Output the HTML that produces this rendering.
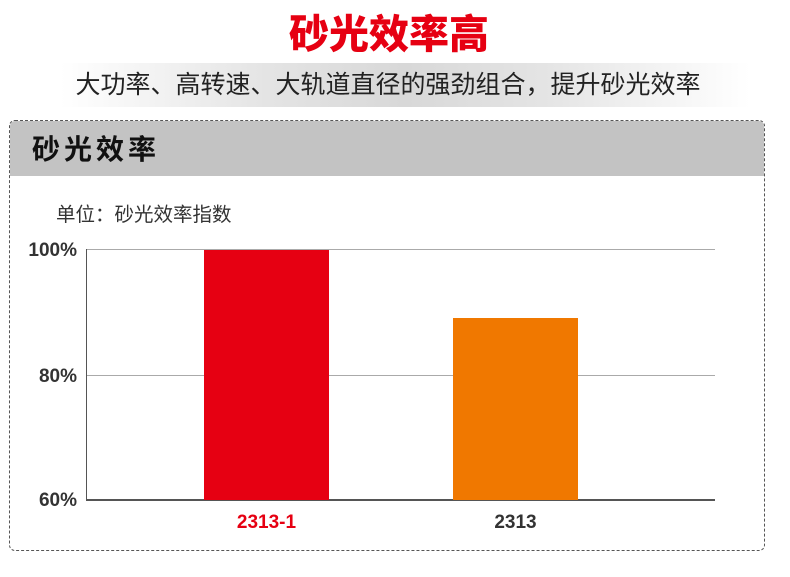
<!DOCTYPE html><html><head><meta charset="utf-8"><style>
body{margin:0;width:790px;height:577px;background:#fff;position:relative;font-family:"Liberation Sans","Noto Sans CJK SC",sans-serif;overflow:hidden}
.a{position:absolute}
</style></head><body>
<div class="a" style="left:0;width:778px;top:12px;text-align:center;font-size:40px;font-weight:900;color:#e60012;line-height:46px">砂光效率高</div>
<div class="a" style="left:60px;width:690px;top:63px;height:44px;background:linear-gradient(90deg,#fff,#e4e4e4 30%,#d8d8d8 50%,#e4e4e4 70%,#fff)"></div>
<div class="a" style="left:0;width:776px;top:68px;text-align:center;font-size:25px;color:#222;line-height:34px">大功率、高转速、大轨道直径的强劲组合，提升砂光效率</div>
<div class="a" style="left:9px;top:120px;width:754px;height:429px;border:1.5px dashed #555;border-radius:6px;overflow:hidden">
<div style="height:55px;background:#c3c3c3;font-size:28px;font-weight:bold;color:#111;line-height:58px;padding-left:22px;letter-spacing:4px">砂光效率</div>
</div>
<div class="a" style="left:56px;top:198px;font-size:19.5px;color:#333">单位：砂光效率指数</div>
<div class="a" style="left:86px;top:249px;width:629px;height:1px;background:#aaa"></div>
<div class="a" style="left:86px;top:375px;width:629px;height:1px;background:#aaa"></div>
<div class="a" style="left:86px;top:249px;width:1px;height:251px;background:#555"></div>
<div class="a" style="left:86px;top:499px;width:629px;height:2px;background:#555"></div>
<div class="a" style="left:204px;top:250px;width:125px;height:250px;background:#e60012"></div>
<div class="a" style="left:453px;top:318px;width:125px;height:182px;background:#f07800"></div>
<div class="a" style="left:10px;top:240px;width:67px;text-align:right;font-size:19px;font-weight:bold;color:#333">100%</div>
<div class="a" style="left:10px;top:366px;width:67px;text-align:right;font-size:19px;font-weight:bold;color:#333">80%</div>
<div class="a" style="left:10px;top:490px;width:67px;text-align:right;font-size:19px;font-weight:bold;color:#333">60%</div>
<div class="a" style="left:204px;top:512px;width:125px;text-align:center;font-size:19px;font-weight:bold;color:#e60012">2313-1</div>
<div class="a" style="left:453px;top:512px;width:125px;text-align:center;font-size:19px;font-weight:bold;color:#333">2313</div>
</body></html>
